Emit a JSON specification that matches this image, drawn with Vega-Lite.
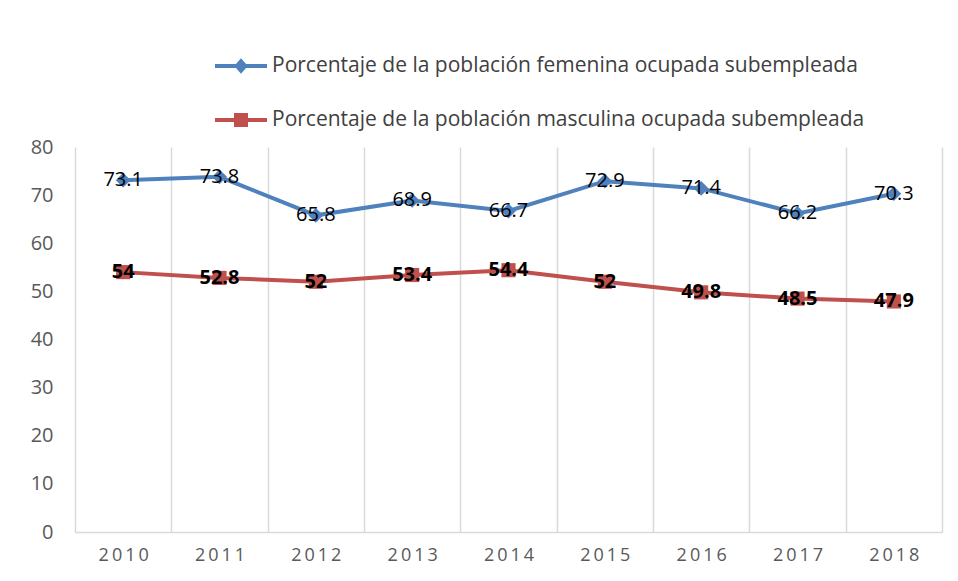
{
  "$schema": "https://vega.github.io/schema/vega-lite/v6.json",
  "width": 867,
  "height": 385,
  "autosize": "none",
  "padding": {"left": 75, "top": 147, "right": 16, "bottom": 49},
  "background": "white",
  "config": {"view": {"stroke": null}, "font": "Open Sans"},
  "data": {
    "values": [
      {"anio": 2010, "serie": "Porcentaje de la población femenina ocupada subempleada", "valor": 73.1},
      {"anio": 2011, "serie": "Porcentaje de la población femenina ocupada subempleada", "valor": 73.8},
      {"anio": 2012, "serie": "Porcentaje de la población femenina ocupada subempleada", "valor": 65.8},
      {"anio": 2013, "serie": "Porcentaje de la población femenina ocupada subempleada", "valor": 68.9},
      {"anio": 2014, "serie": "Porcentaje de la población femenina ocupada subempleada", "valor": 66.7},
      {"anio": 2015, "serie": "Porcentaje de la población femenina ocupada subempleada", "valor": 72.9},
      {"anio": 2016, "serie": "Porcentaje de la población femenina ocupada subempleada", "valor": 71.4},
      {"anio": 2017, "serie": "Porcentaje de la población femenina ocupada subempleada", "valor": 66.2},
      {"anio": 2018, "serie": "Porcentaje de la población femenina ocupada subempleada", "valor": 70.3},
      {"anio": 2010, "serie": "Porcentaje de la población masculina ocupada subempleada", "valor": 54},
      {"anio": 2011, "serie": "Porcentaje de la población masculina ocupada subempleada", "valor": 52.8},
      {"anio": 2012, "serie": "Porcentaje de la población masculina ocupada subempleada", "valor": 52},
      {"anio": 2013, "serie": "Porcentaje de la población masculina ocupada subempleada", "valor": 53.4},
      {"anio": 2014, "serie": "Porcentaje de la población masculina ocupada subempleada", "valor": 54.4},
      {"anio": 2015, "serie": "Porcentaje de la población masculina ocupada subempleada", "valor": 52},
      {"anio": 2016, "serie": "Porcentaje de la población masculina ocupada subempleada", "valor": 49.8},
      {"anio": 2017, "serie": "Porcentaje de la población masculina ocupada subempleada", "valor": 48.5},
      {"anio": 2018, "serie": "Porcentaje de la población masculina ocupada subempleada", "valor": 47.9}
    ]
  },
  "encoding": {
    "x": {
      "field": "anio",
      "type": "quantitative",
      "scale": {"domain": [2009.5, 2018.5], "nice": false, "zero": false},
      "axis": {
        "title": null,
        "values": [2009.5, 2010, 2010.5, 2011, 2011.5, 2012, 2012.5, 2013, 2013.5, 2014, 2014.5, 2015, 2015.5, 2016, 2016.5, 2017, 2017.5, 2018, 2018.5],
        "labelExpr": "datum.value % 1 === 0 ? join(split(toString(datum.value), ''), '\u2009') : ''",
        "grid": true,
        "gridColor": {"condition": {"test": "datum.value % 1 === 0", "value": "transparent"}, "value": "#d9d9d9"},
        "gridWidth": 1.5,
        "ticks": false,
        "domainColor": "#d9d9d9",
        "domainWidth": 1.5,
        "labelFontSize": 18,
        "labelColor": "#595959",
        "labelPadding": 14,
        "labelFlush": false,
        "labelOverlap": false
      }
    },
    "y": {
      "field": "valor",
      "type": "quantitative",
      "scale": {"domain": [0, 80], "nice": false},
      "axis": {
        "title": null,
        "values": [0, 10, 20, 30, 40, 50, 60, 70, 80],
        "grid": false,
        "domain": false,
        "ticks": false,
        "labelFontSize": 20,
        "labelColor": "#595959",
        "labelPadding": 22
      }
    }
  },
  "layer": [
    {
      "mark": {"type": "line", "strokeWidth": 4},
      "encoding": {
        "color": {
          "field": "serie",
          "type": "nominal",
          "scale": {
            "domain": ["Porcentaje de la población femenina ocupada subempleada", "Porcentaje de la población masculina ocupada subempleada"],
            "range": ["#4F81BD", "#C0504D"]
          },
          "legend": {
            "title": null,
            "orient": "none",
            "legendX": 140,
            "legendY": -107,
            "direction": "vertical",
            "padding": 0,
            "rowPadding": 18,
            "symbolSize": 2704,
            "symbolType": "M-1,-0.077L1,-0.077L1,0.077L-1,0.077Z",
            "labelFontSize": 21,
            "labelColor": "#404040",
            "labelOffset": 5,
            "labelLimit": 0,
            "encode": {
              "symbols": {
                "update": {
                  "shape": {"signal": "indexof(datum.value, 'femenina') >= 0 ? 'M-1,-0.077L1,-0.077L1,0.077L-1,0.077Z M0,-0.3L0.26,0L0,0.3L-0.26,0Z' : 'M-1,-0.077L1,-0.077L1,0.077L-1,0.077Z M-0.27,-0.27L0.27,-0.27L0.27,0.27L-0.27,0.27Z'"},
                  "fill": {"signal": "indexof(datum.value, 'femenina') >= 0 ? '#4F81BD' : '#C0504D'"},
                  "stroke": {"value": "transparent"},
                  "strokeWidth": {"value": 0},
                  "opacity": {"value": 1},
                  "fillOpacity": {"value": 1}
                }
              }
            }
          }
        }
      }
    },
    {
      "transform": [{"filter": "indexof(datum.serie, 'femenina') >= 0"}],
      "mark": {"type": "point", "shape": "diamond", "filled": true, "opacity": 1, "color": "#4F81BD", "size": 220}
    },
    {
      "transform": [{"filter": "indexof(datum.serie, 'masculina') >= 0"}],
      "mark": {"type": "point", "shape": "square", "filled": true, "opacity": 1, "color": "#C0504D", "size": 200}
    },
    {
      "transform": [{"filter": "indexof(datum.serie, 'femenina') >= 0"}],
      "mark": {"type": "text", "fontSize": 20, "color": "black", "baseline": "middle", "align": "center"},
      "encoding": {"text": {"field": "valor", "type": "quantitative"}}
    },
    {
      "transform": [{"filter": "indexof(datum.serie, 'masculina') >= 0"}],
      "mark": {"type": "text", "fontSize": 20, "fontWeight": "bold", "color": "black", "baseline": "middle", "align": "center"},
      "encoding": {"text": {"field": "valor", "type": "quantitative"}}
    }
  ]
}
